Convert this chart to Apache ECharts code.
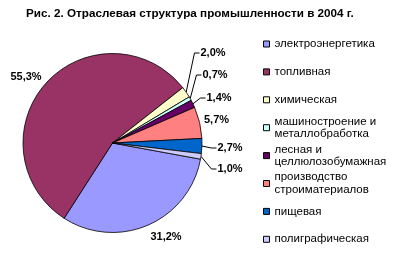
<!DOCTYPE html>
<html><head><meta charset="utf-8">
<script src="https://cdn.jsdelivr.net/npm/echarts@6/dist/echarts.min.js"></script>
<style>html,body{margin:0;padding:0;background:#fff}#c{width:397px;height:256px}</style>
</head><body><div id="c"></div>
<script>
const chartTitle = 'Рис. 2. Отраслевая структура промышленности в 2004 г.';
const categories = ['электроэнергетика','топливная','химическая','машиностроение и\nметаллобработка','лесная и\nцеллюлозобумажная','производство\nстроиматериалов','пищевая','полиграфическая'];
const values = [31.2, 55.3, 2.0, 0.7, 1.4, 5.7, 2.7, 1.0];
const colors = ['#9999FF','#993366','#FFFFCC','#CCFFFF','#660066','#FF8080','#0066CC','#CCCCFF'];
const hasLeader = [false,false,true,true,true,false,true,true];
// label centres (layout only), same order as categories
const labelSpots = [[166,236.5],[26,76.5],[213,53],[215,75],[219,98],[216.5,119.5],[230,148],[230,169]];

const FONT = '"Liberation Sans", Arial, sans-serif';
const CX = 112.5, CY = 143, R = 89.5, START = -10.4;
const total = values.reduce((a,b)=>a+b,0);
const mids = [];
let cum = 0;
values.forEach(v => { mids.push(-START + 360*(cum + v/2)/total); cum += v; });

const LH = 12.5;
const legends = categories.map((name,i) => {
  const lines = name.split('\n').length;
  const pad = (lines-1)*LH;
  const y = 44 + 27.9*i;
  return {
    data:[name], orient:'vertical', left:263, top: y - LH/2 - pad, padding:0,
    itemWidth:6, itemHeight:6, icon:'rect', selectedMode:false,
    itemStyle:{borderColor:'#000', borderWidth:1},
    textStyle:{fontSize:11.5, color:'#000', fontFamily:FONT, lineHeight:LH, padding:[pad,0,0,0]}
  };
});

const chart = echarts.init(document.getElementById('c'), null, {renderer:'canvas'});
chart.setOption({
  animation:false,
  backgroundColor:'#fff',
  title:{text:chartTitle, left:26, top:7.5, padding:0,
    textStyle:{fontSize:11.7, fontWeight:'bold', color:'#000', fontFamily:FONT}},
  legend: legends,
  series:[{
    type:'pie', center:[CX,CY], radius:R, startAngle:START, clockwise:true,
    avoidLabelOverlap:false,
    itemStyle:{borderColor:'#000', borderWidth:0.8},
    label:{show:true, position:'outside', color:'#000', fontSize:11, fontWeight:'bold', fontFamily:FONT,
      formatter: p => p.value.toFixed(1).replace('.',',') + '%'},
    labelLine:{show:false, lineStyle:{color:'#000', width:1}},
    emphasis:{disabled:true},
    data: categories.map((n,i)=>({name:n, value:values[i], itemStyle:{color:colors[i]},
      labelLine:{show:hasLeader[i], lineStyle:{color:'#000', width:1}}})),
    labelLayout: function(p){
      const i = p.dataIndex;
      const s = labelSpots[i];
      const res = {x:s[0], y:s[1], align:'center', verticalAlign:'middle'};
      if (hasLeader[i]) {
        const a = mids[i]*Math.PI/180;
        const ex = CX + R*Math.cos(a), ey = CY + R*Math.sin(a);
        const left = s[0] - p.labelRect.width/2;
        res.labelLinePoints = [[ex,ey],[left-6,s[1]],[left-1,s[1]]];
      }
      return res;
    }
  }]
});
</script></body></html>
